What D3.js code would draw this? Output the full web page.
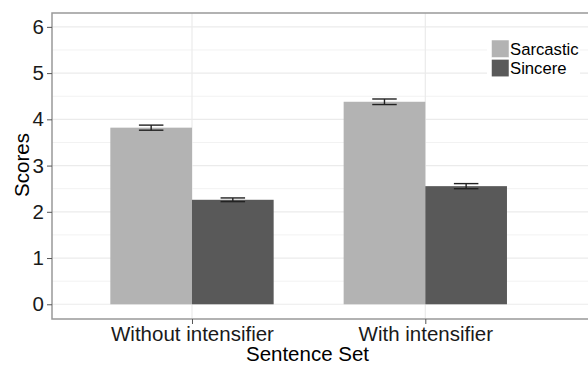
<!DOCTYPE html>
<html><head><meta charset="utf-8">
<script src="https://cdn.jsdelivr.net/npm/d3@7"></script>
<style>body{margin:0;background:#fff}svg{display:block;font-family:"Liberation Sans",Arial,sans-serif}</style>
</head><body><div id="chart"></div>
<script>
const categories = ["Without intensifier", "With intensifier"];
const seriesNames = ["Sarcastic", "Sincere"];
const sarcastic = [3.82, 4.38];
const sincere = [2.26, 2.555];
const sarcasticErr = [0.055, 0.06];
const sincereErr = [0.04, 0.055];
const yTicks = [0, 1, 2, 3, 4, 5, 6];
const yMinor = [0.5, 1.5, 2.5, 3.5, 4.5, 5.5];
const colors = ["#b3b3b3", "#595959"];

const W = 588, H = 365;
const L = 52, T = 13, B = 319, Rpanel = 600, Rscale = 565.3;
const svg = d3.select("#chart").append("svg").attr("width", W).attr("height", H);

const y = d3.scaleLinear().domain([-0.3185, 6.3]).range([B, T]);
const x = d3.scalePoint().domain(categories).range([L, Rscale]).padding(0.6);
const step = x.step();
const dodge = d3.scaleBand().domain(seriesNames).range([-0.35 * step, 0.35 * step]).padding(0);

// panel background + grid
svg.append("rect").attr("x", L).attr("y", T).attr("width", Rpanel - L).attr("height", B - T).attr("fill", "#fff");
const g = svg.append("g");
g.selectAll("line.minor").data(yMinor).join("line")
  .attr("x1", L).attr("x2", Rpanel).attr("y1", d => y(d)).attr("y2", d => y(d))
  .attr("stroke", "#f2f2f2").attr("stroke-width", 1);
g.selectAll("line.major").data(yTicks).join("line")
  .attr("x1", L).attr("x2", Rpanel).attr("y1", d => y(d)).attr("y2", d => y(d))
  .attr("stroke", "#ebebeb").attr("stroke-width", 1.2);
g.selectAll("line.vx").data(categories).join("line")
  .attr("x1", d => x(d)).attr("x2", d => x(d)).attr("y1", T).attr("y2", B)
  .attr("stroke", "#ebebeb").attr("stroke-width", 1.2);

// bars
const rows = [];
categories.forEach((c, i) => {
  rows.push({cat: c, s: seriesNames[0], v: sarcastic[i], e: sarcasticErr[i], col: colors[0]});
  rows.push({cat: c, s: seriesNames[1], v: sincere[i], e: sincereErr[i], col: colors[1]});
});
svg.selectAll("rect.bar").data(rows).join("rect")
  .attr("x", d => x(d.cat) + dodge(d.s))
  .attr("width", dodge.bandwidth())
  .attr("y", d => y(d.v))
  .attr("height", d => y(0) - y(d.v))
  .attr("fill", d => d.col);

// error bars
const ew = dodge.bandwidth() * 0.3;
const eg = svg.selectAll("g.err").data(rows).join("g")
  .attr("stroke", "#222").attr("stroke-width", 1.4);
eg.append("line").attr("x1", d => x(d.cat) + dodge(d.s) + dodge.bandwidth() / 2)
  .attr("x2", d => x(d.cat) + dodge(d.s) + dodge.bandwidth() / 2)
  .attr("y1", d => y(d.v + d.e)).attr("y2", d => y(d.v - d.e));
eg.append("line").attr("x1", d => x(d.cat) + dodge(d.s) + dodge.bandwidth() / 2 - ew / 2)
  .attr("x2", d => x(d.cat) + dodge(d.s) + dodge.bandwidth() / 2 + ew / 2)
  .attr("y1", d => y(d.v + d.e)).attr("y2", d => y(d.v + d.e));
eg.append("line").attr("x1", d => x(d.cat) + dodge(d.s) + dodge.bandwidth() / 2 - ew / 2)
  .attr("x2", d => x(d.cat) + dodge(d.s) + dodge.bandwidth() / 2 + ew / 2)
  .attr("y1", d => y(d.v - d.e)).attr("y2", d => y(d.v - d.e));

// panel border
svg.append("rect").attr("x", L).attr("y", T).attr("width", Rpanel - L).attr("height", B - T)
  .attr("fill", "none").attr("stroke", "#999").attr("stroke-width", 1.5);

// axes
const yAxis = svg.append("g").attr("transform", `translate(${L},0)`)
  .call(d3.axisLeft(y).tickValues(yTicks).tickSize(5).tickPadding(3).tickFormat(d3.format("d")));
yAxis.select(".domain").remove();
yAxis.selectAll("line").attr("stroke", "#555");
yAxis.selectAll("text").attr("font-size", 20.5).attr("fill", "#1a1a1a").attr("font-family", "Liberation Sans, Arial, sans-serif");

const xAxis = svg.append("g").attr("transform", `translate(0,${B})`)
  .call(d3.axisBottom(x).tickSize(5).tickPadding(2));
xAxis.select(".domain").remove();
xAxis.selectAll("line").attr("stroke", "#555");
xAxis.selectAll("text").attr("font-size", 20.5).attr("fill", "#1a1a1a").attr("font-family", "Liberation Sans, Arial, sans-serif");

svg.append("text").attr("x", x(categories[0]) / 2 + x(categories[1]) / 2 - 0).attr("x", 307.5).attr("y", 361)
  .attr("text-anchor", "middle").attr("font-size", 20.5).attr("fill", "#000").text("Sentence Set");
svg.append("text").attr("transform", "translate(29,165) rotate(-90)")
  .attr("text-anchor", "middle").attr("font-size", 20.5).attr("fill", "#000").text("Scores");

// legend
const lg = svg.append("g").attr("transform", "translate(487,36)");
lg.append("rect").attr("x", 0).attr("y", 0).attr("width", 93).attr("height", 44).attr("fill", "#fff");
seriesNames.forEach((s, i) => {
  lg.append("rect").attr("x", 4.5).attr("y", 4 + i * 19.3).attr("width", 17.5).attr("height", 17.5)
    .attr("fill", colors[i]).attr("stroke", "#fff").attr("stroke-width", 0.5);
  lg.append("text").attr("x", 23).attr("y", 19 + i * 19.3).attr("font-size", 16.7).attr("fill", "#000").text(s);
});
</script></body></html>
